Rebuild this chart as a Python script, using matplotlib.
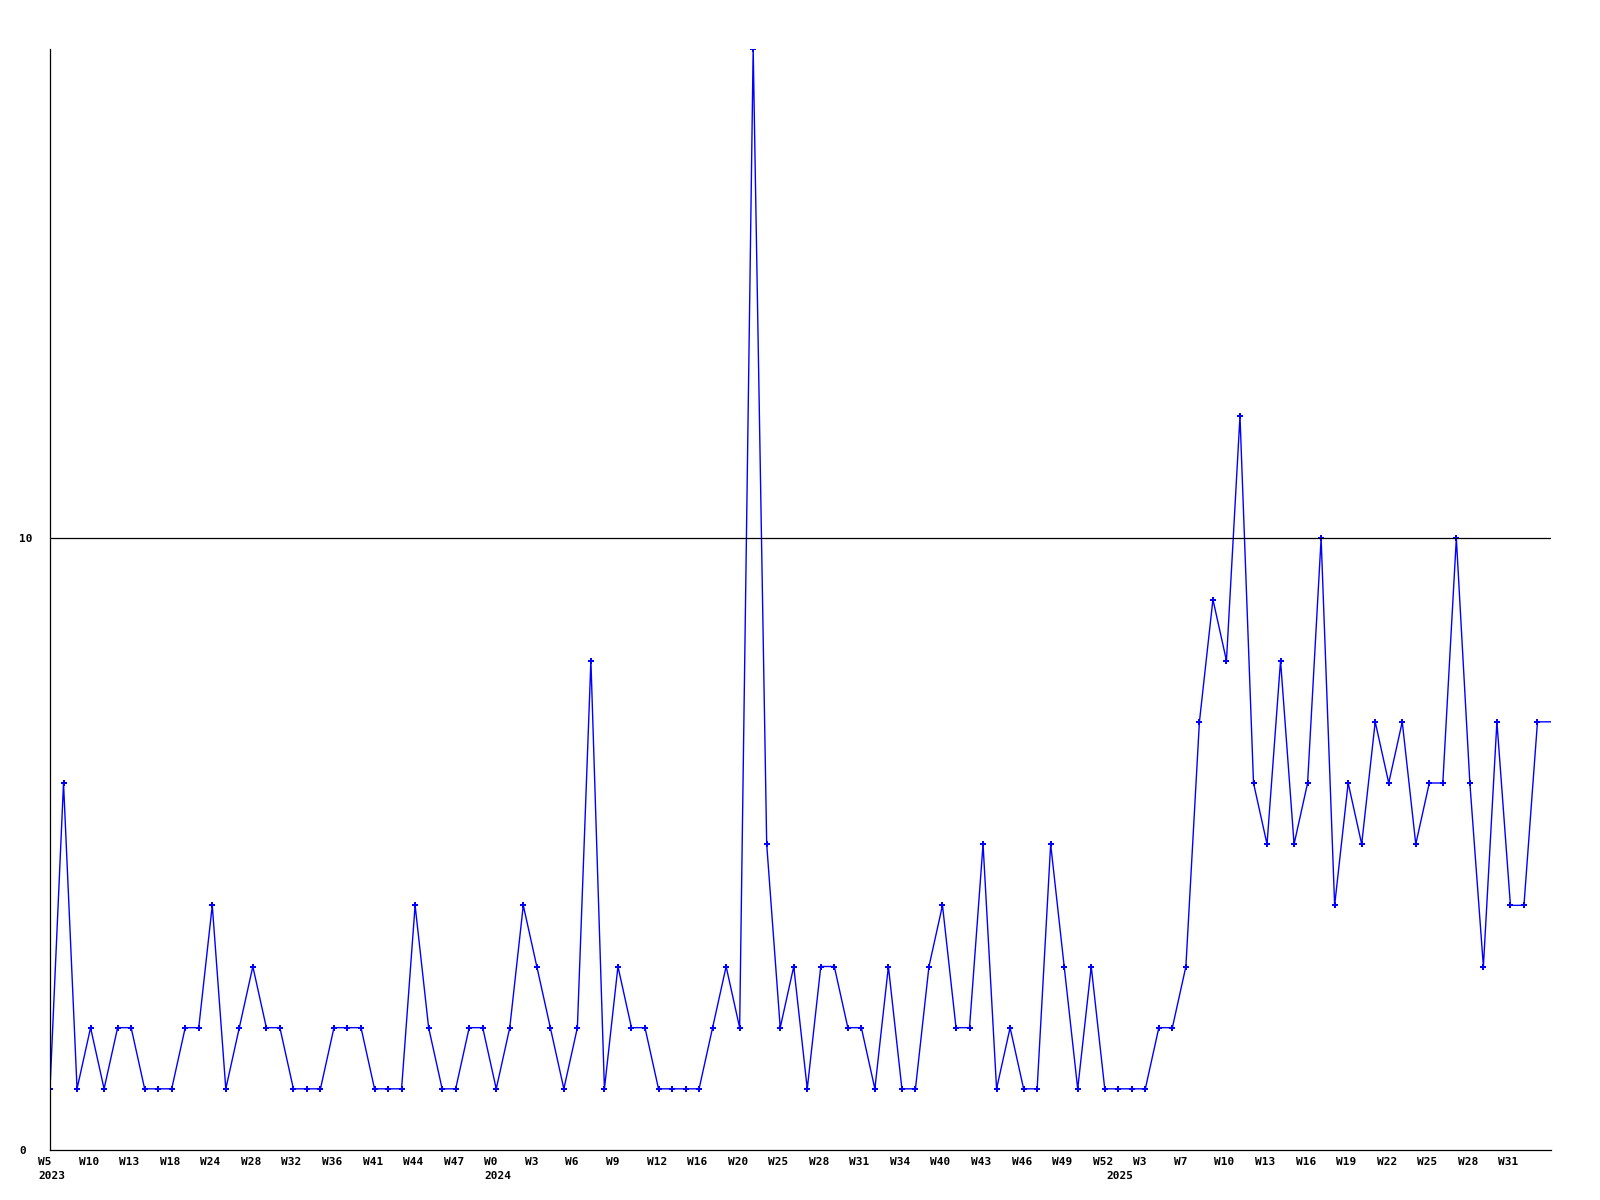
import matplotlib
matplotlib.use("Agg")
import matplotlib.pyplot as plt
from matplotlib.transforms import ScaledTranslation, blended_transform_factory

values = [1, 6, 1, 2, 1, 2, 2, 1, 1, 1, 2, 2, 4, 1, 2, 3, 2, 2, 1, 1,
          1, 2, 2, 2, 1, 1, 1, 4, 2, 1, 1, 2, 2, 1, 2, 4, 3, 2, 1, 2,
          8, 1, 3, 2, 2, 1, 1, 1, 1, 2, 3, 2, 18, 5, 2, 3, 1, 3, 3, 2,
          2, 1, 3, 1, 1, 3, 4, 2, 2, 5, 1, 2, 1, 1, 5, 3, 1, 3, 1, 1,
          1, 1, 2, 2, 3, 7, 9, 8, 12, 6, 5, 8, 5, 6, 10, 4, 6, 5, 7, 6,
          7, 5, 6, 6, 10, 6, 3, 7, 4, 4, 7, 7]

tick_labels = ["W5", "W10", "W13", "W18", "W24", "W28", "W32", "W36", "W41",
               "W44", "W47", "W0", "W3", "W6", "W9", "W12", "W16", "W20",
               "W25", "W28", "W31", "W34", "W40", "W43", "W46", "W49", "W52",
               "W3", "W7", "W10", "W13", "W16", "W19", "W22", "W25", "W28",
               "W31"]
tick_step = 3
year_labels = {0: "2023", 33: "2024", 79: "2025"}
y_ticks = [0, 10]

fig = plt.figure(figsize=(16, 12), dpi=100)
ax = fig.add_axes([50/1600, 1 - 1150/1200, (1551-50)/1600, (1150-49)/1200])

xs = list(range(len(values)))
ax.plot(xs, values, color="#0000ff", lw=1.0, marker="P", markersize=5,
        markeredgewidth=0, markevery=list(range(len(values) - 1)))
ax.axhline(10, color="black", lw=0.9)

ax.set_xlim(0, len(values) - 1)
ax.set_ylim(0, 18)

for s in ["top", "right"]:
    ax.spines[s].set_visible(False)
for s in ["left", "bottom"]:
    ax.spines[s].set_color("black")
    ax.spines[s].set_linewidth(0.9)

font = dict(family="DejaVu Sans Mono", weight="bold", size=8)

ticks = [i * tick_step for i in range(len(tick_labels))]
ax.set_xticks(ticks)
ax.set_xticklabels(tick_labels, **font)
ax.tick_params(axis="x", length=0, pad=5)
off = ScaledTranslation(-12/100, 0, fig.dpi_scale_trans)
for lab in ax.get_xticklabels():
    lab.set_ha("left")
    lab.set_transform(lab.get_transform() + off)

ax.set_yticks(y_ticks)
ax.set_yticklabels([str(v) for v in y_ticks], **font)
ax.tick_params(axis="y", length=0, pad=31*0.72)
for lab in ax.get_yticklabels():
    lab.set_ha("left")

trans = blended_transform_factory(ax.transData, ax.transAxes)
for idx, yr in year_labels.items():
    ax.text(idx, 0, yr, transform=trans + ScaledTranslation(-12/100, -21/100, fig.dpi_scale_trans),
            ha="left", va="top", **font)

fig.savefig("out.png", dpi=100, facecolor="white")
